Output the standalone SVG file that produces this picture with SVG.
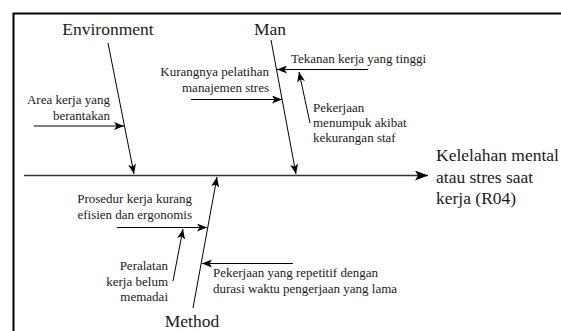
<svg xmlns="http://www.w3.org/2000/svg" width="561" height="331" viewBox="0 0 561 331">
<defs>
<marker id="ah" markerUnits="userSpaceOnUse" markerWidth="10" markerHeight="8" refX="10" refY="4" orient="auto">
<path d="M0,0 L10,4 L0,8 L2.5,4 Z" fill="#000"/>
</marker>
<marker id="ahBig" markerUnits="userSpaceOnUse" markerWidth="13" markerHeight="10" refX="13" refY="5" orient="auto">
<path d="M0,0 L13,5 L0,10 L3,5 Z" fill="#000"/>
</marker>
</defs>
<rect width="561" height="331" fill="#fff"/>
<path d="M13.5,331 L13.5,13.5 L561,13.5" fill="none" stroke="#000" stroke-width="2"/>

<g id="connectors" stroke="#000" stroke-width="1" fill="none">
<line x1="24" y1="175.5" x2="428" y2="175.5" stroke="#333" stroke-width="1.5" marker-end="url(#ahBig)"/>
<line marker-end="url(#ah)" x1="108" y1="43" x2="134" y2="174"/>
<line marker-end="url(#ah)" x1="271" y1="40" x2="296" y2="174"/>
<line marker-end="url(#ah)" x1="193" y1="308" x2="217" y2="177"/>
<line marker-end="url(#ah)" x1="34" y1="126" x2="124" y2="126"/>
<line marker-end="url(#ah)" x1="191" y1="99.5" x2="282" y2="99.5"/>
<line marker-end="url(#ah)" x1="368" y1="69.5" x2="277" y2="69.5"/>
<line marker-end="url(#ah)" x1="310" y1="123" x2="299" y2="72"/>
<line marker-end="url(#ah)" x1="117" y1="227.5" x2="207" y2="227.5"/>
<line marker-end="url(#ah)" x1="173" y1="281" x2="183" y2="229"/>
<line marker-end="url(#ah)" x1="293" y1="263.5" x2="202" y2="263.5"/>
</g>

<g font-family="Liberation Serif" fill="#1a1a1a">
<g id="environment" font-size="17.5"><text x="108" y="35" text-anchor="middle">Environment</text></g>
<g id="man" font-size="17.5"><text x="270" y="35" text-anchor="middle">Man</text></g>
<g id="method" font-size="17.5"><text x="192" y="327" text-anchor="middle">Method</text></g>
<g id="effect" font-size="17.5"><text x="436" y="161">Kelelahan mental</text><text x="436" y="182.5">atau stres saat</text><text x="436" y="204">kerja (R04)</text></g>
<g font-size="13">
<g id="area-kerja" text-anchor="end"><text x="110" y="104">Area kerja yang</text><text x="110" y="120">berantakan</text></g>
<g id="kurangnya-pelatihan" text-anchor="end"><text x="269" y="76">Kurangnya pelatihan</text><text x="269" y="92">manajemen stres</text></g>
<g id="tekanan-kerja"><text x="291" y="63">Tekanan kerja yang tinggi</text></g>
<g id="pekerjaan-menumpuk"><text x="313" y="112">Pekerjaan</text><text x="313" y="127">menumpuk akibat</text><text x="313" y="142">kekurangan staf</text></g>
<g id="prosedur-kerja" text-anchor="end"><text x="192" y="203">Prosedur kerja kurang</text><text x="192" y="219">efisien dan ergonomis</text></g>
<g id="peralatan-kerja" text-anchor="end"><text x="168" y="270">Peralatan</text><text x="168" y="285.5">kerja belum</text><text x="168" y="300.5">memadai</text></g>
<g id="pekerjaan-repetitif"><text x="213" y="277">Pekerjaan yang repetitif dengan</text><text x="213" y="293">durasi waktu pengerjaan yang lama</text></g>
</g>
</g>
</svg>
